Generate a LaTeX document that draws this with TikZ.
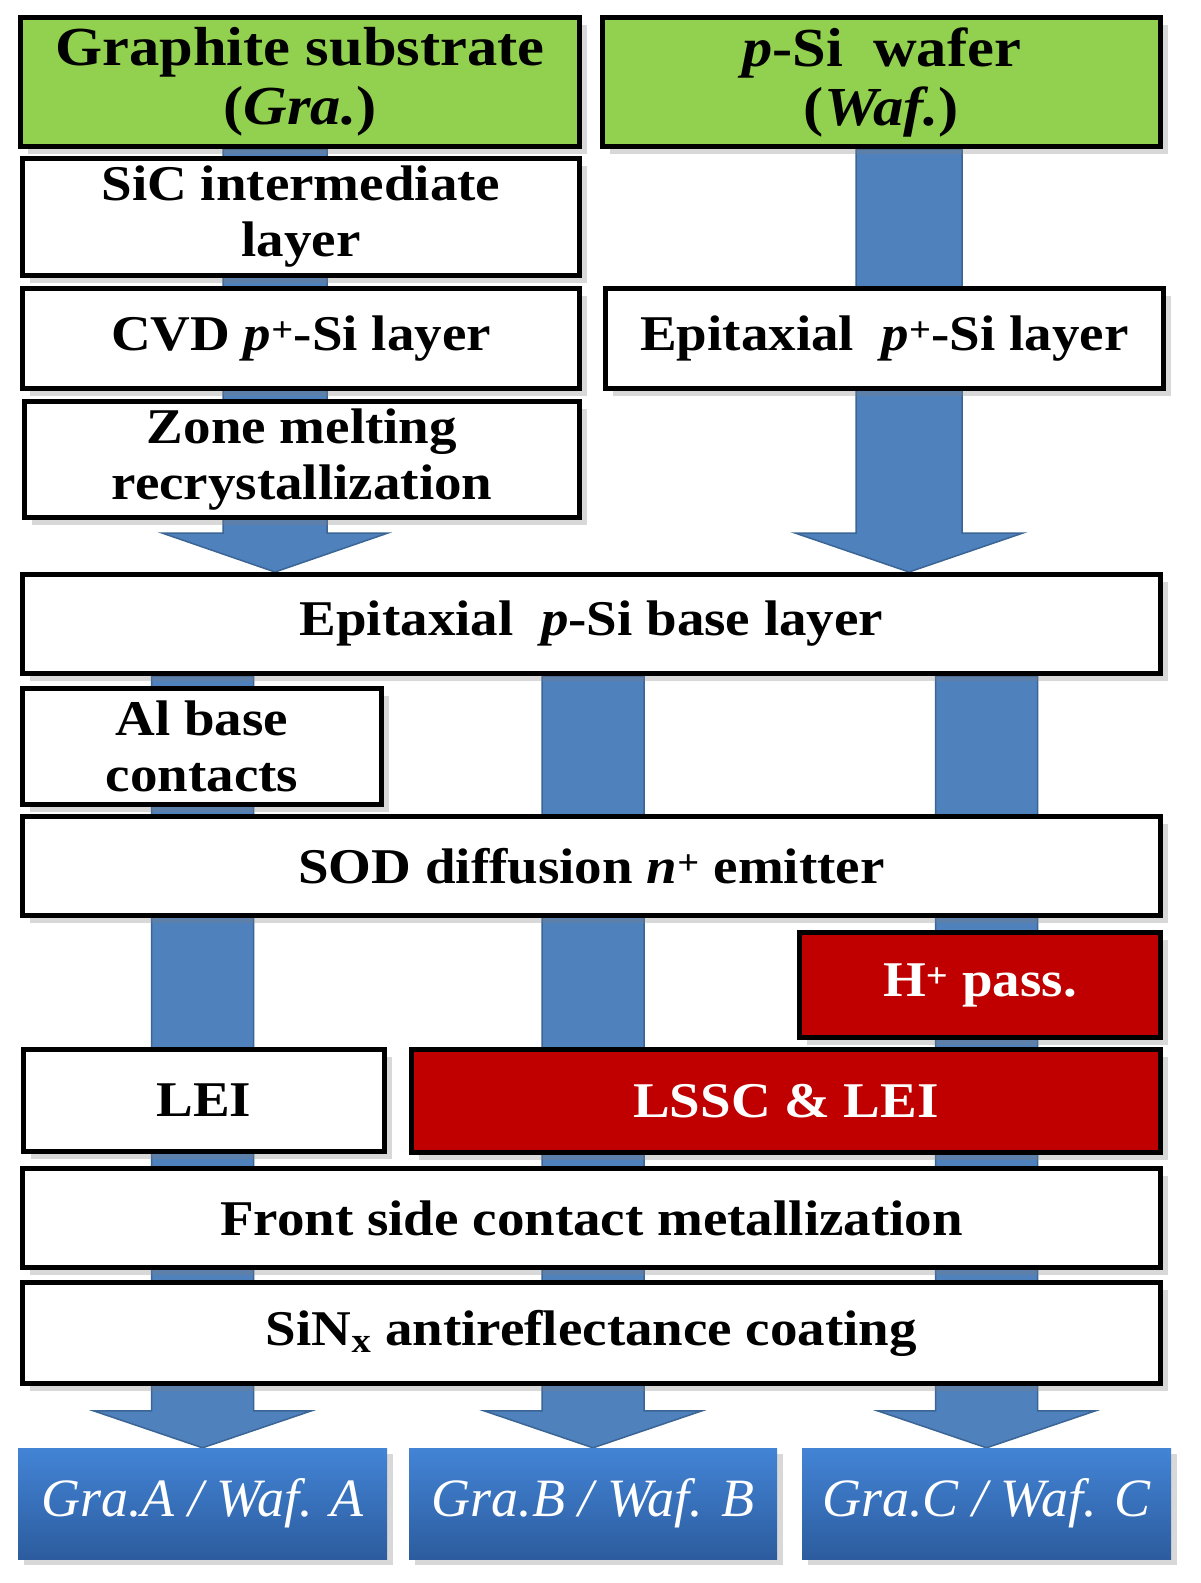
\documentclass[tikz,border=0pt]{standalone}
\usepackage{fontspec}
\setmainfont[FakeStretch=1.1]{Liberation Serif}
\newfontfamily\resfont{Liberation Serif}
\usetikzlibrary{shadows,calc}

\pgfdeclarelayer{background}
\pgfsetlayers{background,main}

\definecolor{gragreen}{HTML}{92D050}
\definecolor{passred}{HTML}{C00000}
\definecolor{arrowblue}{HTML}{4F81BD}
\definecolor{arrowedge}{HTML}{3A6595}
\definecolor{restop}{HTML}{4384D6}
\definecolor{resbot}{HTML}{2C5C9E}

\tikzset{
    stepbox/.style={draw=black, line width=5pt, fill=white, inner sep=0pt, align=center,
        font=\bfseries\fontsize{50}{56}\selectfont,
        drop shadow={shadow xshift=7pt, shadow yshift=-7pt, opacity=0.3}},
    startbox/.style={stepbox, fill=gragreen, font=\bfseries\fontsize{55}{59}\selectfont},
    passbox/.style={stepbox, fill=passred, text=white},
    resbox/.style={inner sep=0pt, align=center, top color=restop, bottom color=resbot,
        text=white, font=\resfont\itshape\fontsize{54}{60}\selectfont,
        drop shadow={shadow xshift=6pt, shadow yshift=-6pt, opacity=0.3}},
    flow/.style={fill=arrowblue, draw=arrowedge, line width=1.5pt}
}

% block arrow: start, tip, shaft half width, head half width, head length
\newcommand{\flowarrow}[5]{
    \draw[flow] ($(#1)+(-#3,0)$) -- ($(#2)+(-#3,-#5)$) -- ($(#2)+(-#4,-#5)$) -- (#2)
        -- ($(#2)+(#4,-#5)$) -- ($(#2)+(#3,-#5)$) -- ($(#1)+(#3,0)$) -- cycle;
}

\begin{document}
\begin{tikzpicture}[x=1pt, y=-1pt]
        \useasboundingbox (0,0) rectangle (1200,1583);

        % Starting materials
        \node[startbox, minimum width=559, minimum height=129] (gra) at (300,82) {Graphite substrate\\(\textit{Gra.})};
        \node[startbox, minimum width=558, minimum height=129] (waf) at (881.5,82) {\textit{p}-Si~ wafer\\(\textit{Waf.})};

        % Graphite route
        \node[stepbox, minimum width=557, minimum height=117] (sic) at (301,217) {SiC intermediate\\layer};
        \node[stepbox, minimum width=557, minimum height=100] (cvd) at (301,338.5) {CVD \textit{p}\textsuperscript{+}-Si layer};
        \node[stepbox, minimum width=555, minimum height=116] (zmr) at (302,459.5) {Zone melting\\recrystallization};

        % Wafer route
        \node[stepbox, minimum width=558, minimum height=100] (epi) at (884.5,338.5) {Epitaxial~ \textit{p}\textsuperscript{+}-Si layer};

        % Common steps
        \node[stepbox, minimum width=1138, minimum height=99] (base) at (591.5,624) {Epitaxial~ \textit{p}-Si base layer};
        \node[stepbox, minimum width=359, minimum height=116] (al) at (202,746.5) {Al base\\contacts};
        \node[stepbox, minimum width=1138, minimum height=99] (sod) at (591.5,866) {SOD diffusion \textit{n}\textsuperscript{+} emitter};
        \node[passbox, minimum width=361, minimum height=105] (hpass) at (980,985) {H\textsuperscript{+} pass.};
        \node[stepbox, minimum width=361, minimum height=102] (lei) at (204,1100.5) {LEI};
        \node[passbox, minimum width=749, minimum height=103] (lssc) at (786,1101) {LSSC \& LEI};
        \node[stepbox, minimum width=1138, minimum height=99] (front) at (591.5,1218) {Front side contact metallization};
        \node[stepbox, minimum width=1138, minimum height=101] (sinx) at (591.5,1333) {SiN\textsubscript{x} antireflectance coating};

        % Results
        \node[resbox, minimum width=369, minimum height=111] (resA) at (202.5,1503.5) {Gra.A / Waf. A};
        \node[resbox, minimum width=368, minimum height=111] (resB) at (593,1503.5) {Gra.B / Waf. B};
        \node[resbox, minimum width=369, minimum height=111] (resC) at (986.5,1503.5) {Gra.C / Waf. C};

        % Arrows
        \coordinate (gx) at (275,0);
        \coordinate (wx) at (909,0);
        \begin{pgfonlayer}{background}
            \fill[white] (0,0) rectangle (1200,1583);
            \flowarrow{gra.south -| gx}{base.north -| gx}{52}{113}{39}
            \flowarrow{waf.south -| wx}{base.north -| wx}{53}{114}{39}
            \foreach \r in {resA, resB, resC} {
                \flowarrow{base.south -| \r.north}{\r.north}{51}{109}{37}
            }
        \end{pgfonlayer}

\end{tikzpicture}
\end{document}
